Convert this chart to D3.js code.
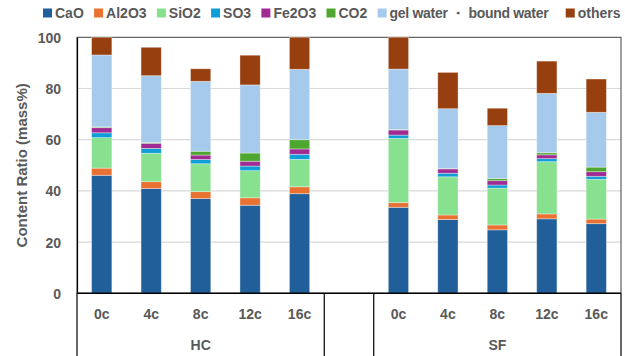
<!DOCTYPE html>
<html>
<head>
<meta charset="utf-8">
<script src="https://cdn.jsdelivr.net/npm/d3@7"></script>
<style>
  html, body { margin: 0; padding: 0; background: #fff; }
  svg { display: block; }
  text { font-family: "Liberation Sans", Arial, sans-serif; font-weight: bold; fill: #595959; }
</style>
</head>
<body>
<svg id="chart" width="625" height="356"></svg>
<script>
// Composition of hydrated paste after freeze-thaw cycles (mass %)
const groups = ["HC", "", "SF"];
const cycles = ["0c", "4c", "8c", "12c", "16c"];
const slots = ["HC|0c", "HC|4c", "HC|8c", "HC|12c", "HC|16c", "gap", "SF|0c", "SF|4c", "SF|8c", "SF|12c", "SF|16c"];

const seriesNames = ["CaO", "Al2O3", "SiO2", "SO3", "Fe2O3", "CO2", "gel water ・ bound water", "others"];
const seriesColors = ["#215F9A", "#E97132", "#88E18E", "#0F9ED5", "#A02B93", "#4EA72E", "#A6CAEC", "#973F0F"];

// values per slot, in slot order (null = empty gap slot)
const CaO   = [46.1, 40.9, 37.0, 34.4, 38.9, null, 33.6, 28.8, 24.8, 29.1, 27.2];
const Al2O3 = [2.8, 2.7, 2.7, 2.9, 2.7, null, 1.8, 1.8, 1.9, 1.9, 1.8];
const SiO2  = [11.9, 11.1, 10.9, 10.6, 10.7, null, 25.1, 14.9, 14.4, 20.4, 15.5];
const SO3   = [1.9, 1.9, 1.7, 1.8, 2.0, null, 1.3, 1.4, 1.2, 1.2, 1.2];
const Fe2O3 = [2.0, 2.0, 1.7, 1.9, 2.1, null, 2.0, 1.7, 1.7, 1.5, 1.8];
const CO2   = [0.3, 0.3, 1.5, 3.2, 3.6, null, 0.2, 0.2, 0.8, 0.8, 1.8];
const gelWater = [28.1, 26.1, 27.3, 26.6, 27.5, null, 23.6, 23.3, 20.7, 23.2, 21.4];
const others   = [6.9, 11.1, 4.9, 11.6, 12.5, null, 12.4, 14.2, 6.8, 12.6, 13.0];

const yTicks = [0, 20, 40, 60, 80, 100];
const yTitle = "Content Ratio (mass%)";

const seriesValues = [CaO, Al2O3, SiO2, SO3, Fe2O3, CO2, gelWater, others];

const table = slots.map((s, i) => {
  const row = { slot: s };
  seriesNames.forEach((n, k) => { row[n] = seriesValues[k][i] || 0; });
  return row;
});

const svg = d3.select("#chart");
const margin = { left: 77, right: 4, top: 37.3, bottom: 63 };
const W = 625, H = 356;
const plotBottom = 293.3;

const x = d3.scaleBand().domain(slots).range([margin.left, W - margin.right]).padding(0);
const y = d3.scaleLinear().domain([0, 100]).range([plotBottom, margin.top]);
const color = d3.scaleOrdinal().domain(seriesNames).range(seriesColors);

// gridlines
svg.append("g")
  .selectAll("line")
  .data(yTicks.filter(t => t > 0 && t < 100))
  .join("line")
  .attr("x1", x.range()[0]).attr("x2", x.range()[1])
  .attr("y1", d => y(d)).attr("y2", d => y(d))
  .attr("stroke", "#D9D9D9").attr("stroke-width", 1.2);

// plot frame
svg.append("rect")
  .attr("x", x.range()[0]).attr("y", y(100))
  .attr("width", x.range()[1] - x.range()[0])
  .attr("height", y(0) - y(100))
  .attr("fill", "none").attr("stroke", "#404040").attr("stroke-width", 1);

// stacked bars
const stacked = d3.stack().keys(seriesNames)(table.filter(d => d.slot !== "gap"));
const barW = x.bandwidth() * 0.41;
svg.append("g")
  .selectAll("g")
  .data(stacked)
  .join("g")
  .attr("fill", d => color(d.key))
  .selectAll("rect")
  .data(d => d)
  .join("rect")
  .attr("x", d => x(d.data.slot) + (x.bandwidth() - barW) / 2)
  .attr("y", d => y(d[1]))
  .attr("width", barW)
  .attr("height", d => Math.max(0, y(d[0]) - y(d[1])))
  .attr("stroke", "rgba(255,255,255,0.45)")
  .attr("stroke-width", 0.8);

// y axis
const yAxis = d3.axisLeft(y).tickValues(yTicks).tickSize(0).tickPadding(16);
const gy = svg.append("g").attr("transform", `translate(${x.range()[0]},0)`).call(yAxis);
gy.select(".domain").attr("stroke", "#000").attr("stroke-width", 1.2);
gy.selectAll("text").attr("font-size", 14).attr("font-family", null).attr("dy", "0.35em");

// x axis (multi-level categories)
const gx = svg.append("g");
gx.append("line")
  .attr("x1", x.range()[0]).attr("x2", x.range()[1])
  .attr("y1", plotBottom).attr("y2", plotBottom)
  .attr("stroke", "#000").attr("stroke-width", 1.5);

gx.selectAll("text.cat")
  .data(slots.filter(s => s !== "gap"))
  .join("text")
  .attr("class", "cat")
  .attr("x", d => x(d) + x.bandwidth() / 2)
  .attr("y", 314.5)
  .attr("dy", "0.35em")
  .attr("text-anchor", "middle")
  .attr("font-size", 14)
  .text(d => d.split("|")[1]);

// group spans
const groupSpans = groups.map(g => {
  const members = g === "" ? ["gap"] : cycles.map(c => g + "|" + c);
  return { name: g, x0: x(members[0]), x1: x(members[members.length - 1]) + x.bandwidth() };
});
const boundaries = [groupSpans[0].x0, ...groupSpans.map(gs => gs.x1)];
gx.selectAll("line.sep")
  .data(boundaries)
  .join("line")
  .attr("class", "sep")
  .attr("x1", d => d).attr("x2", d => d)
  .attr("y1", plotBottom).attr("y2", H)
  .attr("stroke", "#000").attr("stroke-width", 1.2);

gx.selectAll("text.grp")
  .data(groupSpans.filter(g => g.name))
  .join("text")
  .attr("class", "grp")
  .attr("x", d => (d.x0 + d.x1) / 2)
  .attr("y", 345)
  .attr("dy", "0.35em")
  .attr("text-anchor", "middle")
  .attr("font-size", 14)
  .text(d => d.name);

// y title
svg.append("text")
  .attr("transform", `translate(22,${(y(0) + y(100)) / 2}) rotate(-90)`)
  .attr("text-anchor", "middle")
  .attr("dy", "0.35em")
  .attr("font-size", 15)
  .text(yTitle);

// legend
const legend = svg.append("g").attr("transform", "translate(43,13)");
let lx = 0;
seriesNames.forEach((n, i) => {
  const item = legend.append("g").attr("transform", `translate(${lx},0)`);
  item.append("rect").attr("x", 0).attr("y", -4.5).attr("width", 9).attr("height", 9).attr("fill", seriesColors[i]);
  const t = item.append("text").attr("x", 12).attr("dy", "0.35em").attr("font-size", 14).text(n);
  // keep the long label to its natural Latin width
  if (n.includes("・")) t.attr("textLength", 159).attr("lengthAdjust", "spacing");
  lx += 12 + t.node().getComputedTextLength() + 10.3;
});
</script>
</body>
</html>
